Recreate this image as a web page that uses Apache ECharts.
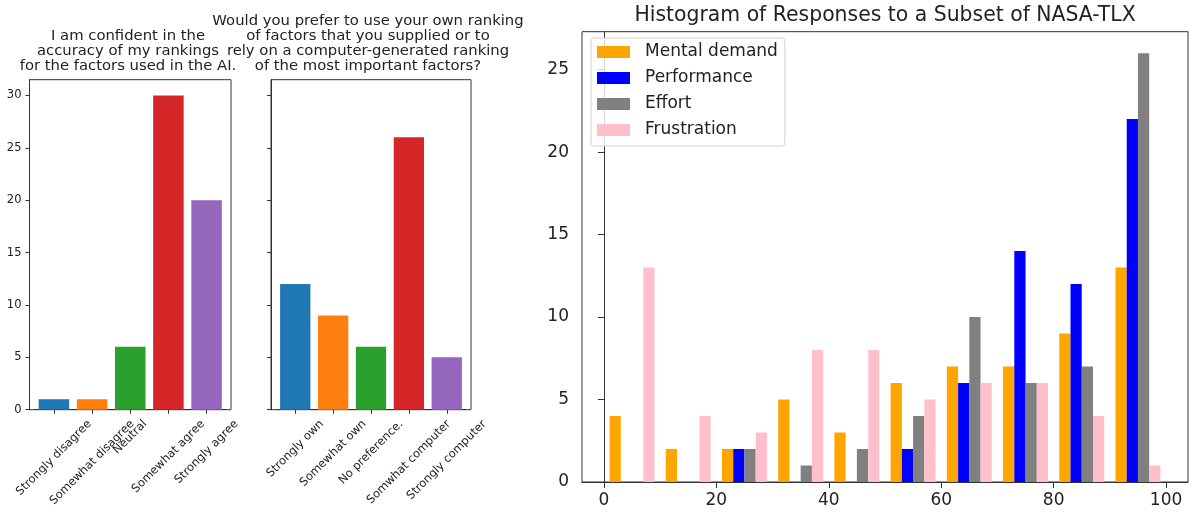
<!DOCTYPE html>
<html>
<head>
<meta charset="utf-8">
<script src="https://cdn.jsdelivr.net/npm/echarts@6/dist/echarts.min.js"></script>
<style>
  html, body { margin: 0; padding: 0; background: #fff; }
  #chart { width: 1192px; height: 515px; }
</style>
</head>
<body>
<div id="chart"></div>
<script>
// left panel: confidence question
const confidenceLabels = ['Strongly disagree', 'Somewhat disagree', 'Neutral', 'Somewhat agree', 'Strongly agree'];
const confidenceCounts = [1, 1, 6, 30, 20];

// middle panel: own vs computer ranking
const preferenceLabels = ['Strongly own', 'Somewhat own', 'No preference.', 'Somwhat computer', 'Strongly computer'];
const preferenceCounts = [12, 9, 6, 26, 5];

const leftTicks = [0, 5, 10, 15, 20, 25, 30];

// right panel: NASA-TLX histogram, bins of width 10
const binStarts = [0, 10, 20, 30, 40, 50, 60, 70, 80, 90];
const mentalDemand = [4, 2, 2, 5, 3, 6, 7, 7, 9, 13];
const performance = [0, 0, 2, 0, 0, 2, 6, 14, 12, 22];
const effort = [0, 0, 2, 1, 2, 4, 10, 6, 7, 26];
const frustration = [13, 4, 3, 8, 8, 5, 6, 6, 4, 1];
const histXTicks = [0, 20, 40, 60, 80, 100];
const histYTicks = [0, 5, 10, 15, 20, 25];

const tab10 = ['#1f77b4', '#ff7f0e', '#2ca02c', '#d62728', '#9467bd'];
const histColors = ['#ffa500', '#0000ff', '#808080', '#ffc0cb'];

const FONT = 'DejaVu Sans';
const TXT = '#222';
const LINE = '#333';

const chart = echarts.init(document.getElementById('chart'));

// rotated tick labels: matplotlib centers the rotated box under the tick,
// echarts anchors the text, so shift each label by its own width
const ctx = document.createElement('canvas').getContext('2d');
const labelSize = 11.5;
ctx.font = labelSize + 'px "' + FONT + '"';
let rotatedItems = (labels) => labels.map(s => {
  let w = ctx.measureText(s).width;
  return {
    value: s,
    textStyle: { align: 'center', verticalAlign: 'middle', lineHeight: w / 2, padding: [0, w / 2, 0, 0] }
  };
});

let grid = [], xAxis = [], yAxis = [], series = [];

// one bar panel = outer grid (frame + y axis) and an inset grid for the categories
let addPanel = (box, labels, counts, showYLabels) => {
  let gi = grid.length;
  let inset = box.width * 0.14 / 5.28;
  grid.push({
    left: box.left, top: box.top, width: box.width, height: box.height,
    show: true, borderColor: LINE, borderWidth: 1, backgroundColor: 'transparent',
    containLabel: false, outerBoundsMode: 'none'
  });
  grid.push({
    left: box.left + inset, top: box.top, width: box.width - 2 * inset, height: box.height,
    containLabel: false, outerBoundsMode: 'none'
  });
  xAxis.push({ gridIndex: gi, type: 'value', show: false });
  yAxis.push({
    gridIndex: gi, type: 'value', min: 0, max: 31.5, interval: 5,
    axisLine: { show: true, lineStyle: { color: LINE } },
    axisTick: { show: true, length: 4, lineStyle: { color: LINE }, customValues: leftTicks },
    axisLabel: { show: showYLabels, fontFamily: FONT, fontSize: labelSize, color: TXT, margin: 8,
      customValues: leftTicks },
    splitLine: { show: false }
  });
  xAxis.push({
    gridIndex: gi + 1, type: 'category', data: rotatedItems(labels),
    axisLine: { show: true, lineStyle: { color: LINE } },
    axisTick: { show: true, alignWithLabel: true, length: 4, lineStyle: { color: LINE } },
    axisLabel: { interval: 0, rotate: 45, margin: 12.5, formatter: v => '\n' + v,
      fontFamily: FONT, fontSize: labelSize, color: TXT, hideOverlap: false }
  });
  yAxis.push({ gridIndex: gi + 1, type: 'value', min: 0, max: 31.5, show: false, splitLine: { show: false } });
  series.push({
    type: 'bar', xAxisIndex: gi + 1, yAxisIndex: gi + 1, barWidth: '80%',
    data: counts.map((v, i) => ({ value: v, itemStyle: { color: tab10[i] } })),
    silent: true
  });
};

addPanel({ left: 29.5, top: 79.7, width: 201.5, height: 330 }, confidenceLabels, confidenceCounts, true);
addPanel({ left: 271, top: 79.7, width: 200, height: 330 }, preferenceLabels, preferenceCounts, false);

// histogram panel
grid.push({
  left: 582, top: 31.7, width: 606, height: 450.3,
  show: true, borderColor: LINE, borderWidth: 1, backgroundColor: 'transparent',
  containLabel: false, outerBoundsMode: 'none'
});
xAxis.push({
  gridIndex: grid.length - 1, type: 'value', min: -3.9, max: 103.9,
  axisLine: { show: true, onZero: false, lineStyle: { color: LINE } },
  axisTick: { show: true, length: 6, lineStyle: { color: LINE }, customValues: histXTicks },
  axisLabel: { fontFamily: FONT, fontSize: 17, color: TXT, margin: 10, customValues: histXTicks },
  splitLine: { show: false }
});
yAxis.push({
  gridIndex: grid.length - 1, type: 'value', min: 0, max: 27.3,
  axisLine: { show: true, lineStyle: { color: LINE } },
  axisTick: { show: true, length: 6, lineStyle: { color: LINE }, customValues: histYTicks },
  axisLabel: { fontFamily: FONT, fontSize: 17, color: TXT, margin: 13, customValues: histYTicks },
  splitLine: { show: false }
});
const histAxis = xAxis.length - 1;

const binWidth = 10;
const nSeries = 4;
const histBarW = 0.8 * binWidth / nSeries;

let histSeries = (name, values, k) => ({
  type: 'custom', name, xAxisIndex: histAxis, yAxisIndex: histAxis,
  itemStyle: { color: histColors[k] },
  encode: { x: 0, y: 1 },
  data: binStarts.map((b, i) => [b, values[i]]),
  renderItem: (params, api) => {
    let v = api.value(1);
    if (!v) return null;
    let x0 = api.value(0) + 0.1 * binWidth + k * histBarW;
    let a = api.coord([x0, v]);
    let b = api.coord([x0 + histBarW, 0]);
    return {
      type: 'rect',
      shape: { x: a[0], y: a[1], width: b[0] - a[0], height: b[1] - a[1] },
      style: api.style()
    };
  },
  silent: true
});

series.push(histSeries('Mental demand', mentalDemand, 0));
series.push(histSeries('Performance', performance, 1));
series.push(histSeries('Effort', effort, 2));
series.push(histSeries('Frustration', frustration, 3));

let option = {
  backgroundColor: '#fff',
  animation: false,
  textStyle: { fontFamily: FONT },
  grid, xAxis, yAxis, series,
  legend: {
    orient: 'vertical', left: 591, top: 38,
    padding: [5.5, 7, 7.5, 6],
    itemWidth: 33, itemHeight: 12, itemGap: 9,
    icon: 'rect',
    backgroundColor: 'rgba(255,255,255,0.8)',
    borderColor: '#d0d0d0', borderWidth: 1, borderRadius: 3,
    textStyle: { fontFamily: FONT, fontSize: 17, lineHeight: 17, color: TXT, padding: [0, 0, 0, 10] },
    data: ['Mental demand', 'Performance', 'Effort', 'Frustration']
  },
  graphic: [
    {
      type: 'text', x: 128, y: 29,
      style: {
        text: 'I am confident in the\naccuracy of my rankings\nfor the factors used in the AI.',
        textAlign: 'center', align: 'center', fontFamily: FONT, fontSize: 14.8, lineHeight: 15, fill: TXT
      }
    },
    {
      type: 'text', x: 368, y: 14,
      style: {
        text: 'Would you prefer to use your own ranking\nof factors that you supplied or to\nrely on a computer-generated ranking\nof the most important factors?',
        textAlign: 'center', align: 'center', fontFamily: FONT, fontSize: 14.8, lineHeight: 15, fill: TXT
      }
    },
    {
      type: 'text', x: 885, y: 5.5,
      style: {
        text: 'Histogram of Responses to a Subset of NASA-TLX',
        textAlign: 'center', align: 'center', fontFamily: FONT, fontSize: 20.4, lineHeight: 20, fill: TXT
      }
    }
  ]
};

chart.setOption(option);
</script>
</body>
</html>
